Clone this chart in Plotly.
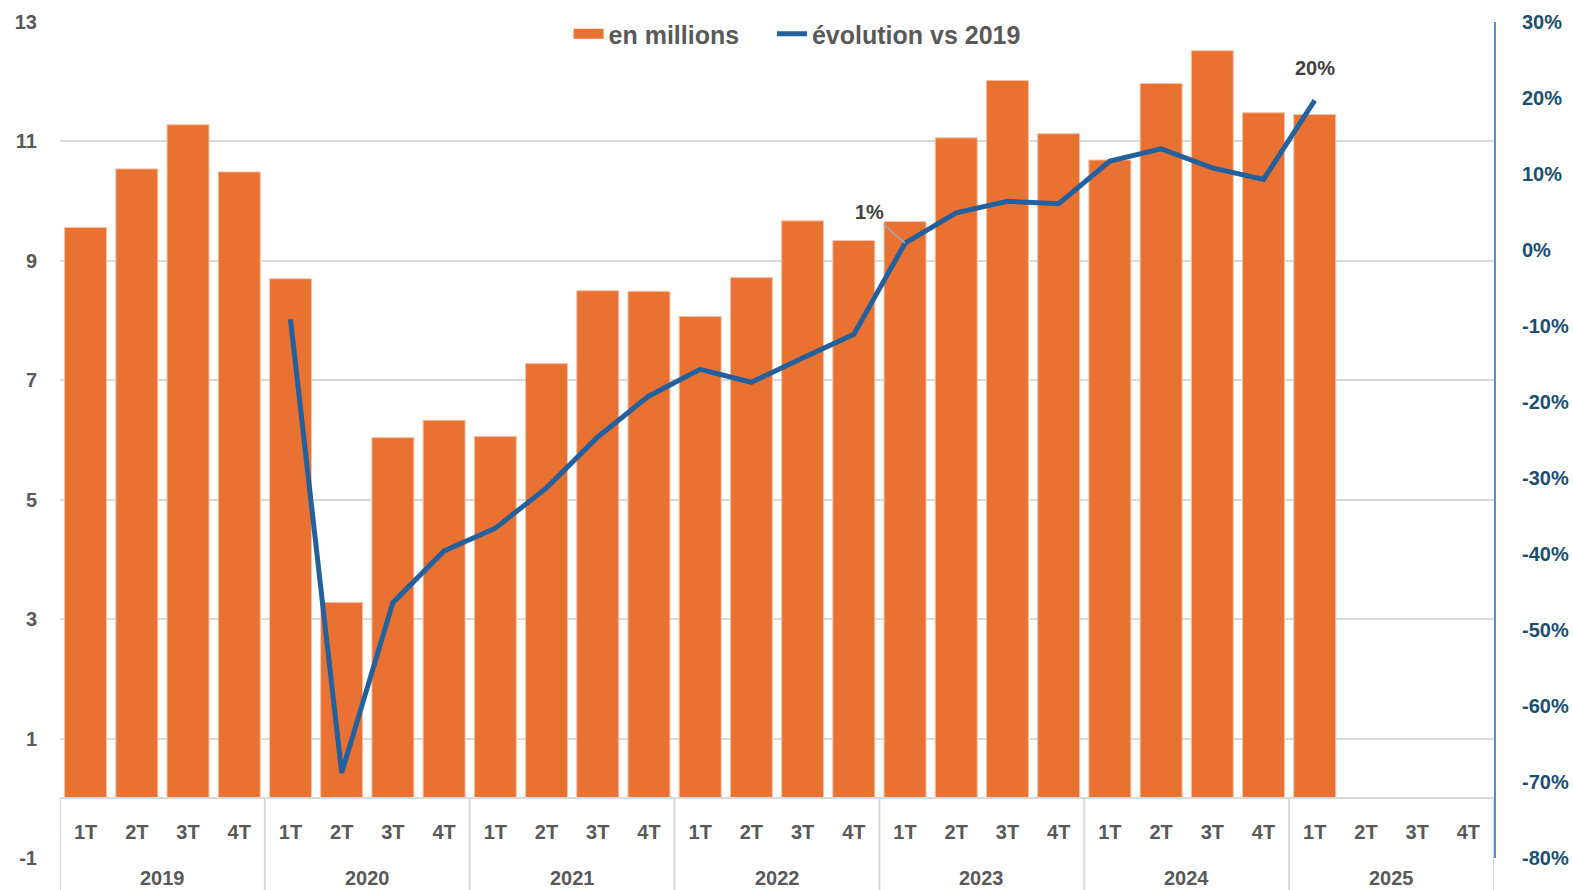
import plotly.graph_objects as go

years = ["2019", "2020", "2021", "2022", "2023", "2024", "2025"]
quarters = ["1T", "2T", "3T", "4T"]

# voyageurs en millions par trimestre
volumes = [9.56, 10.54, 11.28, 10.49,
           8.70, 3.28, 6.04, 6.33,
           6.06, 7.28, 8.50, 8.49,
           8.07, 8.72, 9.67, 9.34,
           9.66, 11.06, 12.02, 11.13,
           10.69, 11.97, 12.52, 11.48,
           11.45, None, None, None]

# évolution vs même trimestre 2019, en %
evolution = [None, None, None, None,
             -9.1, -68.8, -46.4, -39.6,
             -36.6, -31.3, -24.6, -19.2,
             -15.7, -17.4, -14.2, -11.1,
             0.9, 4.9, 6.4, 6.1,
             11.7, 13.3, 10.8, 9.3,
             19.7, None, None, None]

left_ticks = [-1, 1, 3, 5, 7, 9, 11, 13]
right_ticks = [-80, -70, -60, -50, -40, -30, -20, -10, 0, 10, 20, 30]

labels = [f"{y} {q}" for y in years for q in quarters]
qtext = [q for y in years for q in quarters]

ORANGE = "#E97132"
BLUE = "#22619E"
GREY = "#595959"
LINE = "#D9D9D9"
FONT = "Liberation Sans, Arial, sans-serif"

fig = go.Figure()
fig.add_trace(go.Bar(x=labels, y=volumes, name="en millions", showlegend=False,
                     marker=dict(color=ORANGE, line=dict(color="#F6C3A6", width=1))))
fig.add_trace(go.Scatter(x=labels, y=evolution, name="évolution vs 2019", yaxis="y2", showlegend=False,
                         mode="lines", line=dict(color=BLUE, width=5), connectgaps=False))

# entrées de légende
fig.add_trace(go.Scatter(x=[None], y=[None], mode="lines", name="en millions    ",
                         line=dict(color=ORANGE, width=15)))
fig.add_trace(go.Scatter(x=[None], y=[None], mode="lines", name="évolution vs 2019",
                         line=dict(color=BLUE, width=5)))

# étiquettes de données
i1 = labels.index("2023 1T")
i2 = labels.index("2025 1T")
fig.add_annotation(x=i1, y=evolution[i1], xref="x", yref="y2", text="<b>1%</b>",
                   showarrow=True, arrowhead=0, arrowcolor="#A6A6A6", arrowwidth=1.5,
                   ax=-36, ay=-31, font=dict(size=20, color="#404040", family=FONT))
fig.add_annotation(x=i2, y=evolution[i2], xref="x", yref="y2", text="<b>20%</b>",
                   showarrow=False, yshift=32, font=dict(size=20, color="#404040", family=FONT))

# années et séparateurs sous l'axe
y_axis0 = 1 / 14
for k, yr in enumerate(years):
    fig.add_annotation(x=k * 4 + 1.5, y=-0.0245, xref="x", yref="paper", text=f"<b>{yr}</b>",
                       showarrow=False, yanchor="middle", font=dict(size=20, color=GREY, family=FONT))
for k in range(len(years) + 1):
    fig.add_shape(type="line", x0=k * 4 - 0.5, x1=k * 4 - 0.5, xref="x", y0=y_axis0, y1=-0.04, yref="paper",
                  line=dict(color=LINE, width=2), layer="above")

fig.update_layout(
    width=1573, height=890,
    margin=dict(l=60, r=79, t=22, b=32, autoexpand=False),
    plot_bgcolor="white", paper_bgcolor="white",
    font=dict(family=FONT, color=GREY),
    bargap=0.18,
    showlegend=True,
    legend=dict(orientation="h", x=0.514, xanchor="center", y=0.9856, yanchor="middle",
                bgcolor="rgba(255,255,255,0)", tracegroupgap=0,
                font=dict(family=FONT, size=25, color=GREY, weight="bold")),
    xaxis=dict(type="category", anchor="free", position=y_axis0, range=[-0.5, 27.5],
               showline=True, linecolor=LINE, linewidth=2,
               tickvals=labels, ticktext=qtext, ticklabelstandoff=16,
               tickfont=dict(size=20, color=GREY, family=FONT, weight="bold"),
               showgrid=False),
    yaxis=dict(range=[-1, 13], tickvals=left_ticks, ticktext=[str(v) for v in left_ticks],
               showgrid=True, gridcolor=LINE, gridwidth=2,
               zeroline=False, tickfont=dict(size=20, color=GREY, weight="bold"), ticklabelstandoff=22),
    yaxis2=dict(range=[-80, 30], tickvals=right_ticks, ticktext=[f"{v}%" for v in right_ticks],
                overlaying="y", side="right", showgrid=False,
                zeroline=False, showline=True, linecolor="#5B8FC9", linewidth=2,
                tickfont=dict(size=20, color="#1B4F6E", weight="bold"), ticklabelstandoff=22),
)

fig.write_html("out.html", config={"displayModeBar": False},
               post_script="document.body.style.margin='0';")
